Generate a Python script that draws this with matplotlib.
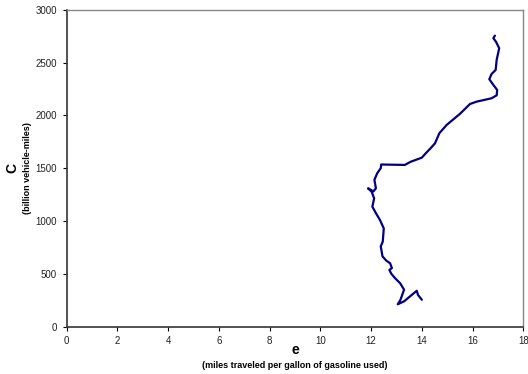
import matplotlib
matplotlib.use("Agg")
import matplotlib.pyplot as plt

plt.rcParams['font.family'] = ['Liberation Sans', 'DejaVu Sans']

# fuel economy (miles per gallon) and travel (billion vehicle-miles), in time order
mpg = [14.0, 13.95, 13.85, 13.8, 13.55, 13.3, 13.05, 13.15, 13.3, 13.15,
       12.95, 12.8, 12.72, 12.82, 12.75, 12.6, 12.45, 12.38, 12.46, 12.5,
       12.35, 12.2, 12.05, 12.12, 12.02, 11.88, 12.09, 12.19, 12.13, 12.24,
       12.38, 12.40, 13.33, 13.55, 14.0, 14.15, 14.35, 14.52, 14.69, 14.98,
       15.5, 15.9, 16.16, 16.75, 16.95, 16.97, 16.82, 16.66, 16.75, 16.91,
       16.95, 17.05, 16.92, 16.82, 16.88]
vmt = [255, 270, 300, 340, 290, 240, 212, 250, 350, 410,
       458, 500, 537, 555, 600, 625, 665, 760, 805, 930,
       1010, 1070, 1136, 1215, 1278, 1310, 1280, 1310, 1389, 1452,
       1500, 1535, 1531, 1560, 1600, 1640, 1690, 1736, 1831, 1910,
       2014, 2108, 2130, 2162, 2190, 2241, 2288, 2342, 2392, 2430,
       2525, 2636, 2698, 2730, 2755]

x_ticks = list(range(0, 19, 2))
y_ticks = list(range(0, 3001, 500))

fig = plt.figure(figsize=(5.28, 3.74), dpi=100)
ax = fig.add_axes([0.1263, 0.1265, 0.8648, 0.8475])

ax.plot(mpg, vmt, color='#000080', lw=1.6, solid_joinstyle='round',
        solid_capstyle='round')

ax.set_xlim(0, 18)
ax.set_ylim(0, 3000)
ax.set_xticks(x_ticks)
ax.set_yticks(y_ticks)
ax.tick_params(axis='both', labelsize=7, length=3, width=0.8,
               direction='out', pad=4, colors='black')
ax.tick_params(axis='y', labelcolor='#222222')
ax.tick_params(axis='x', labelcolor='#222222')

for side in ('left', 'bottom'):
    ax.spines[side].set_color('#333333')
    ax.spines[side].set_linewidth(1.2)
for side in ('top', 'right'):
    ax.spines[side].set_color('#888888')
    ax.spines[side].set_linewidth(1.0)

fig.text(0.559, 0.063, 'e', ha='center', va='center', fontsize=10,
         fontweight='bold')
fig.text(0.559, 0.023, '(miles traveled per gallon of gasoline used)',
         ha='center', va='center', fontsize=6.5, fontweight='bold')
fig.text(0.024, 0.55, 'C', ha='center', va='center', fontsize=10,
         fontweight='bold', rotation=90)
fig.text(0.053, 0.55, '(billion vehicle-miles)', ha='center', va='center',
         fontsize=6.5, fontweight='bold', rotation=90)

fig.savefig('out.png', dpi=100)
